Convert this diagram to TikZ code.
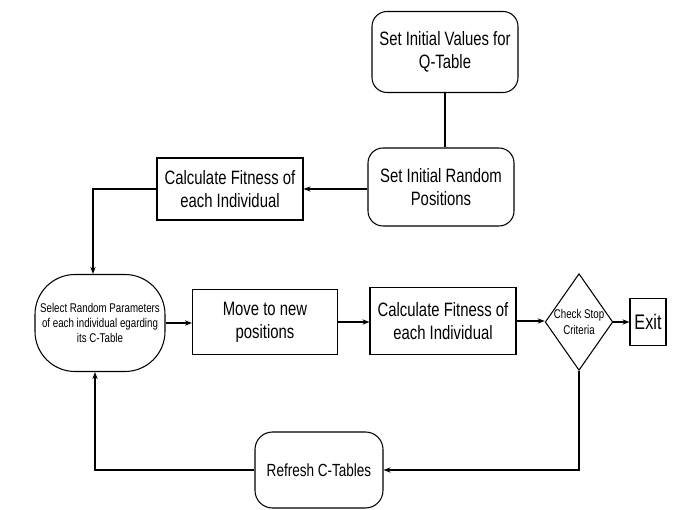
\documentclass[tikz,border=0pt]{standalone}
\usepackage{fontspec}
\setmainfont{Liberation Sans}[FakeStretch=0.77]
\usetikzlibrary{shapes.geometric,arrows.meta}
\tikzset{
  rbox/.style={draw,rounded corners=0.3cm,align=center,inner sep=0pt,font=\fontsize{11}{13}\selectfont},
  sbox/.style={draw,align=center,inner sep=0pt,font=\fontsize{11}{13}\selectfont},
  stadium/.style={draw,rounded corners=0.8cm,align=center,inner sep=0pt,font=\fontsize{7.2}{8.8}\selectfont},
  decision/.style={draw,diamond,shape aspect=0.7,align=center,inner sep=0pt,font=\fontsize{7.2}{8.8}\selectfont},
  flow/.style={->,>={Stealth[length=4pt,width=3pt]}}
}
\begin{document}
\begin{tikzpicture}[line width=0.6pt]
\useasboundingbox (0,0) rectangle (13.68,-10.2);
\node[rbox,minimum width=2.92cm,minimum height=1.62cm] (qtab) at (8.9,-1.04) {Set Initial Values for\\Q-Table};
\node[rbox,minimum width=2.92cm,minimum height=1.56cm] (initpos) at (8.82,-3.74) {Set Initial Random\\Positions};
\node[sbox,minimum width=2.92cm,minimum height=1.24cm] (fit1) at (4.6,-3.78) {Calculate Fitness of\\each Individual};
\node[stadium,minimum width=2.6cm,minimum height=1.94cm] (select) at (2.0,-6.46) {Select Random Parameters\\of each individual egarding\\its C-Table};
\node[sbox,minimum width=2.9cm,minimum height=1.3cm] (move) at (5.3,-6.44) {Move to new\\positions};
\node[sbox,minimum width=2.92cm,minimum height=1.34cm] (fit2) at (8.86,-6.42) {Calculate Fitness of\\each Individual};
\node[decision,minimum width=1.34cm,minimum height=1.9cm] (check) at (11.58,-6.44) {Check Stop\\Criteria};
\node[sbox,minimum width=0.72cm,minimum height=0.94cm,font=\fontsize{12}{14}\selectfont] (exit) at (12.96,-6.44) {Exit};
\node[rbox,rounded corners=0.35cm,minimum width=2.56cm,minimum height=1.52cm,font=\fontsize{10}{12}\selectfont] (refresh) at (6.38,-9.4) {Refresh C-Tables};
% connectors
\draw (qtab.south) -- (qtab.south |- initpos.north);
\draw[flow] (initpos.west |- fit1) -- (fit1.east);
\draw[flow] (fit1.west) -| ([xshift=-0.14cm]select.north);
\draw[flow] (select.east) -- (move.west |- select);
\draw[flow] (move.east) -- (fit2.west |- move);
\draw[flow] (fit2.east) -- (check.west |- fit2);
\draw[flow] (check.east) -- (exit.west);
\draw[flow] (check.south) |- (refresh.east);
\draw[flow] (refresh.west) -| ([xshift=-0.1cm]select.south);
\end{tikzpicture}
\end{document}
